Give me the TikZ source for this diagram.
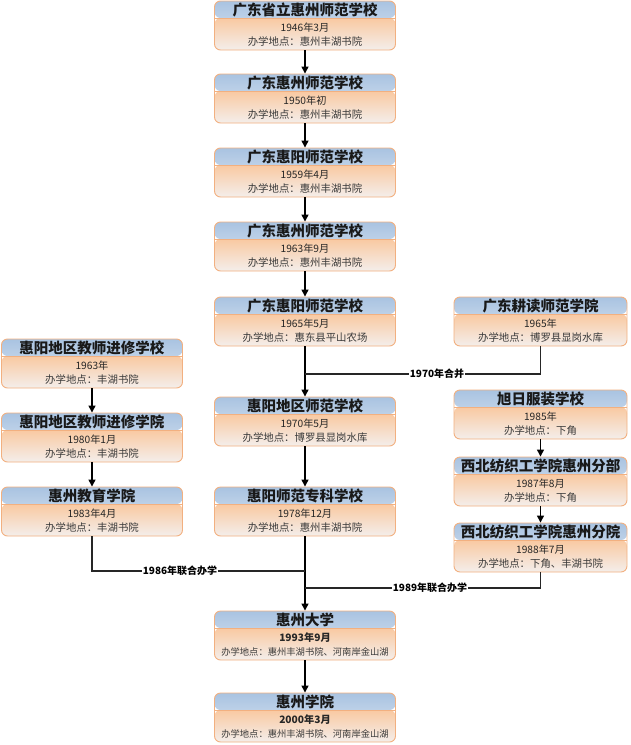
\documentclass[tikz,border=0pt]{standalone}
\usepackage{fontspec}
\newfontfamily\cjk{Noto Sans CJK SC}
\usetikzlibrary{arrows.meta}
\definecolor{bord}{HTML}{F2B080}
\definecolor{bluetop}{HTML}{A9C3E1}
\definecolor{bluebot}{HTML}{E2EAF4}
\definecolor{orgtop}{HTML}{F9C9A1}
\definecolor{orgbot}{HTML}{F4EEEB}
\definecolor{bodytxt}{HTML}{3A3A3A}
\tikzset{
  ubox/.style={rectangle, rounded corners=6pt, draw=bord, line width=0.9pt,
    minimum height=49, inner sep=0,
    path picture={
      \shade[top color=bluetop, bottom color=bluebot]
        (path picture bounding box.north west) rectangle ([yshift=-17]path picture bounding box.north east);
      \shade[top color=orgtop, bottom color=orgbot]
        ([yshift=-17]path picture bounding box.north west) rectangle (path picture bounding box.south east);
      \draw[bord, line width=0.7pt] ([yshift=-17]path picture bounding box.north west) -- ([yshift=-17]path picture bounding box.north east);
    }},
  ttl/.style={font=\cjk\fontsize{14.5}{16}\selectfont\bfseries, text=black!90, inner sep=0},
  dt/.style={font=\cjk\fontsize{10.2}{12}\selectfont, text=black!85, inner sep=0},
  pl/.style={font=\cjk\fontsize{10.4}{12}\selectfont, text=bodytxt, inner sep=0},
  arr/.style={draw=black, line width=1.3pt, -{Triangle[width=7pt,length=7pt]}},
  conn/.style={draw=black!85, line width=1.1pt},
  mlabel/.style={font=\cjk\fontsize{10}{12}\selectfont\bfseries, fill=white, inner xsep=1pt, inner ysep=1pt}
}
\newcommand\schoolbox[7]{%
  \node[ubox, minimum width=#4] (#1) at (#2,{#3+24.5}) {};
  \node[ttl] (#1-t) at ([yshift=-9]#1.north) {#5};
  \node[dt] (#1-d) at ([yshift=-27]#1.north) {#6};
  \node[pl] (#1-p) at ([yshift=-41]#1.north) {#7};
}
\newcommand\smalltxt{\fontsize{9.3}{11}\selectfont}
\begin{document}
\begin{tikzpicture}[x=1pt,y=-1pt]
\useasboundingbox (0,0) rectangle (630,745);
% centre column
\schoolbox{b1}{305}{1}{181}{广东省立惠州师范学校}{1946年3月}{办学地点：惠州丰湖书院}
\schoolbox{b2}{305}{74}{181}{广东惠州师范学校}{1950年初}{办学地点：惠州丰湖书院}
\schoolbox{b3}{305}{148}{181}{广东惠阳师范学校}{1959年4月}{办学地点：惠州丰湖书院}
\schoolbox{b4}{305}{222}{181}{广东惠州师范学校}{1963年9月}{办学地点：惠州丰湖书院}
\schoolbox{b5}{305}{297}{181}{广东惠阳师范学校}{1965年5月}{办学地点：惠东县平山农场}
\schoolbox{b6}{305}{397}{181}{惠阳地区师范学校}{1970年5月}{办学地点：博罗县显岗水库}
\schoolbox{b7}{305}{487}{181}{惠阳师范专科学校}{1978年12月}{办学地点：惠州丰湖书院}
\schoolbox{b8}{305}{611}{181}{惠州大学}{\bfseries 1993年9月}{\smalltxt 办学地点：惠州丰湖书院、河南岸金山湖}
\schoolbox{b9}{305}{693}{181}{惠州学院}{\bfseries 2000年3月}{\smalltxt 办学地点：惠州丰湖书院、河南岸金山湖}
% left column
\schoolbox{l1}{92}{339}{181}{惠阳地区教师进修学校}{1963年}{办学地点：丰湖书院}
\schoolbox{l2}{92}{413}{181}{惠阳地区教师进修学院}{1980年1月}{办学地点：丰湖书院}
\schoolbox{l3}{92}{487}{181}{惠州教育学院}{1983年4月}{办学地点：丰湖书院}
% right column
\schoolbox{r1}{540.5}{297}{173}{广东耕读师范学院}{1965年}{办学地点：博罗县显岗水库}
\schoolbox{r2}{540.5}{390}{173}{旭日服装学校}{1985年}{办学地点：下角}
\schoolbox{r3}{540.5}{457}{173}{西北纺织工学院惠州分部}{1987年8月}{办学地点：下角}
\schoolbox{r4}{540.5}{523}{173}{西北纺织工学院惠州分院}{1988年7月}{办学地点：下角、丰湖书院}
% arrows
\draw[arr] (b1) -- (b2);
\draw[arr] (b2) -- (b3);
\draw[arr] (b3) -- (b4);
\draw[arr] (b4) -- (b5);
\draw[arr] (b5) -- (b6);
\draw[arr] (b6) -- (b7);
\draw[arr] (b7) -- (b8);
\draw[arr] (b8) -- (b9);
\draw[arr] (l1) -- (l2);
\draw[arr] (l2) -- (l3);
\draw[arr] (r2) -- (r3);
\draw[arr] (r3) -- (r4);
% merges
\coordinate (m70) at (305,374);
\coordinate (m86) at (305,571);
\coordinate (m89) at (305,588);
\draw[conn] (r1.south) |- (m70);
\draw[conn] (l3.south) |- (m86);
\draw[conn] (r4.south) |- (m89);
\node[mlabel] (t70) at (437,374) {1970年合并};
\node[mlabel] (t86) at (180,571) {1986年联合办学};
\node[mlabel] (t89) at (430,588) {1989年联合办学};
\end{tikzpicture}
\end{document}
